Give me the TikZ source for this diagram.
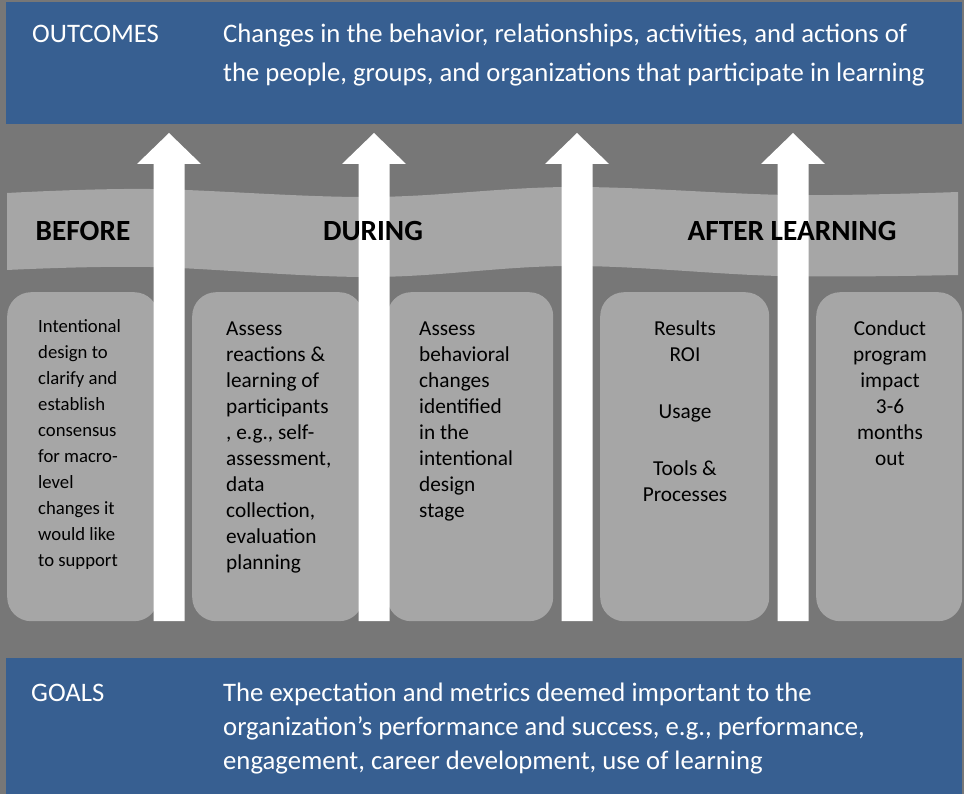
\documentclass[tikz,border=0pt]{standalone}
\usepackage{fontspec}
\setmainfont{Carlito}
\usepackage{tikz}
\usetikzlibrary{positioning}
\definecolor{bggray}{RGB}{119,119,119}
\definecolor{barblue}{RGB}{55,95,145}
\definecolor{cardgray}{RGB}{166,166,166}

\begin{document}
\begin{tikzpicture}[x=1pt,y=-1pt,
  bar/.style={fill=barblue,draw=none,anchor=north west,inner sep=0pt},
  bartext/.style={text=white,anchor=base west,align=left,inner sep=0pt},
  stage/.style={font=\fontsize{29.3}{32}\selectfont\bfseries,inner sep=0pt,anchor=base},
  card/.style={fill=cardgray,draw=none,rounded corners=24pt,anchor=north west,inner sep=0pt,minimum height=329pt},
  cardtext/.style={anchor=base west,align=left,inner sep=0pt,font=\fontsize{21.3}{26}\selectfont}]
\fill[bggray] (0,0) rectangle (964,794);
\useasboundingbox (0,0) rectangle (964,794);

\node[bar,minimum width=956pt,minimum height=122pt] (topbar) at (6,2) {};
\node[bar,minimum width=956pt,minimum height=136pt] (botbar) at (6,658) {};

\fill[cardgray] plot[smooth,tension=0.6] coordinates {(7,193) (150,189) (370,197) (570,187) (790,195) (958,192)}
  -- plot[smooth,tension=0.6] coordinates {(958,275) (780,276) (570,266) (370,277) (150,267) (7,270)} -- cycle;

\node[card,minimum width=151pt] (before) at (7,292) {};
\node[card,minimum width=171pt] (react) at (192,292) {};
\node[card,minimum width=166pt] (behav) at (387,292) {};
\node[card,minimum width=169pt] (results) at (600,292) {};
\node[card,minimum width=146pt] (impact) at (816,292) {};

\foreach \ax in {169,374,577,793}
  \fill[white] (\ax-15.5,621) -- (\ax-15.5,164) -- (\ax-32,164) -- (\ax,133) -- (\ax+32,164) -- (\ax+15.5,164) -- (\ax+15.5,621) -- cycle;

% multi-line nodes sit on the baseline of their last line
\node[bartext,font=\fontsize{26.7}{39}\selectfont] (outlbl) at (32,43) {OUTCOMES};
\node[bartext,font=\fontsize{26.7}{39}\selectfont] (outtxt) at (223,82) {Changes in the behavior, relationships, activities, and actions of\\the people, groups, and organizations that participate in learning};
\node[bartext,font=\fontsize{26.7}{34}\selectfont] (goallbl) at (31,701) {GOALS};
\node[bartext,font=\fontsize{26.7}{34}\selectfont] (goaltxt) at (223,769) {The expectation and metrics deemed important to the\\organization’s performance and success, e.g., performance,\\engagement, career development, use of learning};

\node[stage] (beforelbl) at (83,241) {BEFORE};
\node[stage] (duringlbl) at (373,241) {DURING};
\node[stage] (afterlbl) at (792,241) {AFTER LEARNING};

\node[cardtext,font=\fontsize{18.7}{26}\selectfont] (beforetxt) at (38,566) {Intentional\\design to\\clarify and\\establish\\consensus\\for macro-\\level\\changes it\\would like\\to support};
\node[cardtext] (reacttxt) at (226,569) {Assess\\reactions \&\\learning of\\participants\\, e.g., self-\\assessment,\\data\\collection,\\evaluation\\planning};
\node[cardtext] (behavtxt) at (419,517) {Assess\\behavioral\\changes\\identified\\in the\\intentional\\design\\stage};
\node[cardtext,anchor=base,align=center] (resultstxt) at (685,501) {Results\\ROI\\[31pt]Usage\\[31pt]Tools \&\\Processes};
\node[cardtext,anchor=base,align=center] (impacttxt) at (890,465) {Conduct\\program\\impact\\3-6\\months\\out};
\end{tikzpicture}
\end{document}
